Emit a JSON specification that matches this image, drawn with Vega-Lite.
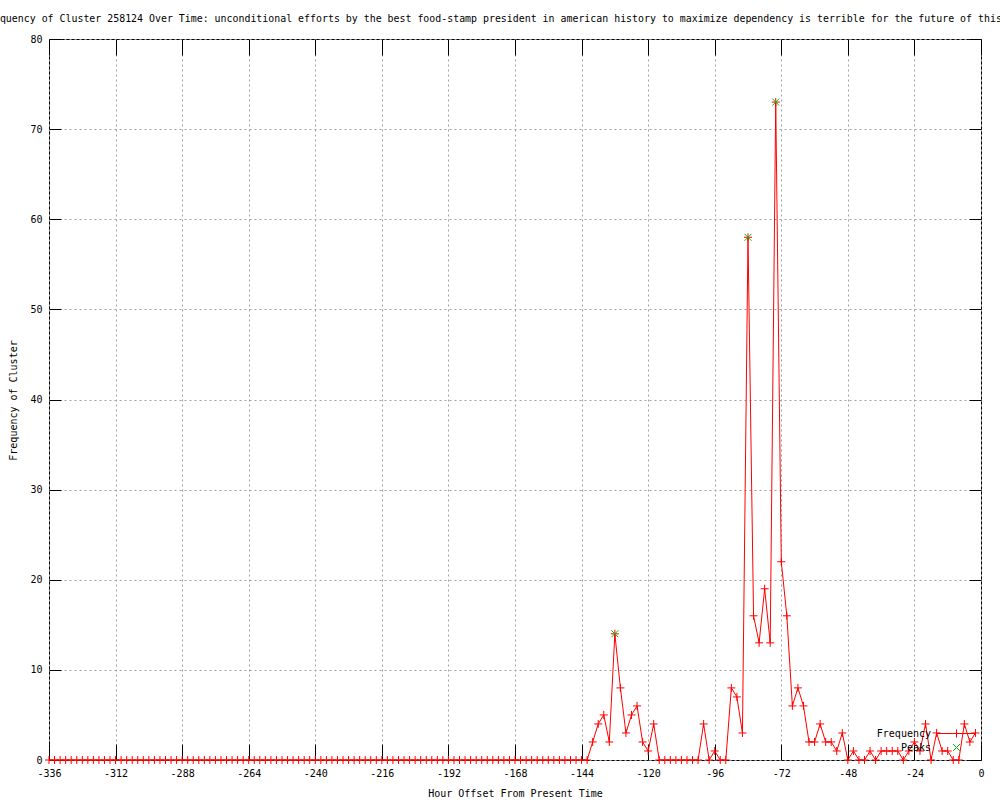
{
 "$schema": "https://vega.github.io/schema/vega-lite/v6.json",
 "autosize": {"type": "none"},
 "width": 932,
 "height": 721,
 "padding": {"left": 49, "top": 39, "right": 19, "bottom": 40},
 "background": "white",
 "config": {"view": {"stroke": "black", "strokeWidth": 1}, "font": "DejaVu Sans Mono"},
 "title": {"text": "Frequency of Cluster 258124 Over Time: unconditional efforts by the best food-stamp president in american history to maximize dependency is terrible for the future of this", "anchor": "start", "frame": "group", "dx": -67, "offset": 10, "fontSize": 9.92, "fontWeight": "normal", "font": "DejaVu Sans Mono", "color": "black"},
 "datasets": {
  "freq": [
   {"hour": -336, "frequency": 0}, {"hour": -334, "frequency": 0}, {"hour": -332, "frequency": 0}, {"hour": -330, "frequency": 0}, {"hour": -328, "frequency": 0}, {"hour": -326, "frequency": 0}, {"hour": -324, "frequency": 0}, {"hour": -322, "frequency": 0}, {"hour": -320, "frequency": 0}, {"hour": -318, "frequency": 0}, {"hour": -316, "frequency": 0}, {"hour": -314, "frequency": 0}, {"hour": -312, "frequency": 0}, {"hour": -310, "frequency": 0}, {"hour": -308, "frequency": 0}, {"hour": -306, "frequency": 0}, {"hour": -304, "frequency": 0}, {"hour": -302, "frequency": 0}, {"hour": -300, "frequency": 0}, {"hour": -298, "frequency": 0}, {"hour": -296, "frequency": 0}, {"hour": -294, "frequency": 0}, {"hour": -292, "frequency": 0}, {"hour": -290, "frequency": 0}, {"hour": -288, "frequency": 0}, {"hour": -286, "frequency": 0}, {"hour": -284, "frequency": 0}, {"hour": -282, "frequency": 0}, {"hour": -280, "frequency": 0}, {"hour": -278, "frequency": 0}, {"hour": -276, "frequency": 0}, {"hour": -274, "frequency": 0}, {"hour": -272, "frequency": 0}, {"hour": -270, "frequency": 0}, {"hour": -268, "frequency": 0}, {"hour": -266, "frequency": 0}, {"hour": -264, "frequency": 0}, {"hour": -262, "frequency": 0}, {"hour": -260, "frequency": 0}, {"hour": -258, "frequency": 0}, {"hour": -256, "frequency": 0}, {"hour": -254, "frequency": 0}, {"hour": -252, "frequency": 0}, {"hour": -250, "frequency": 0}, {"hour": -248, "frequency": 0}, {"hour": -246, "frequency": 0}, {"hour": -244, "frequency": 0}, {"hour": -242, "frequency": 0}, {"hour": -240, "frequency": 0}, {"hour": -238, "frequency": 0}, {"hour": -236, "frequency": 0}, {"hour": -234, "frequency": 0}, {"hour": -232, "frequency": 0}, {"hour": -230, "frequency": 0}, {"hour": -228, "frequency": 0}, {"hour": -226, "frequency": 0}, {"hour": -224, "frequency": 0}, {"hour": -222, "frequency": 0}, {"hour": -220, "frequency": 0}, {"hour": -218, "frequency": 0}, {"hour": -216, "frequency": 0}, {"hour": -214, "frequency": 0}, {"hour": -212, "frequency": 0}, {"hour": -210, "frequency": 0}, {"hour": -208, "frequency": 0}, {"hour": -206, "frequency": 0}, {"hour": -204, "frequency": 0}, {"hour": -202, "frequency": 0}, {"hour": -200, "frequency": 0}, {"hour": -198, "frequency": 0}, {"hour": -196, "frequency": 0}, {"hour": -194, "frequency": 0}, {"hour": -192, "frequency": 0}, {"hour": -190, "frequency": 0}, {"hour": -188, "frequency": 0}, {"hour": -186, "frequency": 0}, {"hour": -184, "frequency": 0}, {"hour": -182, "frequency": 0}, {"hour": -180, "frequency": 0}, {"hour": -178, "frequency": 0}, {"hour": -176, "frequency": 0}, {"hour": -174, "frequency": 0}, {"hour": -172, "frequency": 0}, {"hour": -170, "frequency": 0}, {"hour": -168, "frequency": 0}, {"hour": -166, "frequency": 0}, {"hour": -164, "frequency": 0}, {"hour": -162, "frequency": 0}, {"hour": -160, "frequency": 0}, {"hour": -158, "frequency": 0}, {"hour": -156, "frequency": 0}, {"hour": -154, "frequency": 0}, {"hour": -152, "frequency": 0}, {"hour": -150, "frequency": 0}, {"hour": -148, "frequency": 0}, {"hour": -146, "frequency": 0}, {"hour": -144, "frequency": 0}, {"hour": -142, "frequency": 0},
   {"hour": -140, "frequency": 2}, {"hour": -138, "frequency": 4}, {"hour": -136, "frequency": 5}, {"hour": -134, "frequency": 2}, {"hour": -132, "frequency": 14}, {"hour": -130, "frequency": 8}, {"hour": -128, "frequency": 3}, {"hour": -126, "frequency": 5}, {"hour": -124, "frequency": 6}, {"hour": -122, "frequency": 2}, {"hour": -120, "frequency": 1}, {"hour": -118, "frequency": 4},
   {"hour": -116, "frequency": 0}, {"hour": -114, "frequency": 0}, {"hour": -112, "frequency": 0}, {"hour": -110, "frequency": 0}, {"hour": -108, "frequency": 0}, {"hour": -106, "frequency": 0}, {"hour": -104, "frequency": 0}, {"hour": -102, "frequency": 0},
   {"hour": -100, "frequency": 4}, {"hour": -98, "frequency": 0}, {"hour": -96, "frequency": 1}, {"hour": -94, "frequency": 0}, {"hour": -92, "frequency": 0}, {"hour": -90, "frequency": 8}, {"hour": -88, "frequency": 7}, {"hour": -86, "frequency": 3}, {"hour": -84, "frequency": 58}, {"hour": -82, "frequency": 16}, {"hour": -80, "frequency": 13}, {"hour": -78, "frequency": 19}, {"hour": -76, "frequency": 13}, {"hour": -74, "frequency": 73}, {"hour": -72, "frequency": 22}, {"hour": -70, "frequency": 16}, {"hour": -68, "frequency": 6}, {"hour": -66, "frequency": 8}, {"hour": -64, "frequency": 6}, {"hour": -62, "frequency": 2}, {"hour": -60, "frequency": 2}, {"hour": -58, "frequency": 4}, {"hour": -56, "frequency": 2}, {"hour": -54, "frequency": 2}, {"hour": -52, "frequency": 1}, {"hour": -50, "frequency": 3}, {"hour": -48, "frequency": 0}, {"hour": -46, "frequency": 1}, {"hour": -44, "frequency": 0}, {"hour": -42, "frequency": 0}, {"hour": -40, "frequency": 1}, {"hour": -38, "frequency": 0}, {"hour": -36, "frequency": 1}, {"hour": -34, "frequency": 1}, {"hour": -32, "frequency": 1}, {"hour": -30, "frequency": 1}, {"hour": -28, "frequency": 0}, {"hour": -26, "frequency": 1}, {"hour": -24, "frequency": 2}, {"hour": -22, "frequency": 1}, {"hour": -20, "frequency": 4}, {"hour": -18, "frequency": 0}, {"hour": -16, "frequency": 3}, {"hour": -14, "frequency": 1}, {"hour": -12, "frequency": 1}, {"hour": -10, "frequency": 0}, {"hour": -8, "frequency": 0}, {"hour": -6, "frequency": 4}, {"hour": -4, "frequency": 2}, {"hour": -2, "frequency": 3}
  ],
  "peaks": [
   {"hour": -132, "frequency": 14}, {"hour": -84, "frequency": 58}, {"hour": -74, "frequency": 73}
  ]
 },
 "layer": [
  {
   "data": {"name": "freq"},
   "mark": {"type": "line", "strokeWidth": 1},
   "encoding": {
    "x": {"field": "hour", "type": "quantitative", "scale": {"domain": [-336, 0], "nice": false, "zero": false},
     "axis": {"orient": "bottom", "values": [-336, -312, -288, -264, -240, -216, -192, -168, -144, -120, -96, -72, -48, -24, 0], "grid": true, "gridColor": "#a0a0a0", "gridDash": [2, 3], "gridWidth": 1, "domain": false, "ticks": true, "tickSize": -16, "tickColor": "black", "tickWidth": 1, "labelPadding": 24, "labelFont": "DejaVu Sans Mono", "labelFontSize": 10, "labelColor": "black", "labelExpr": "'' + datum.value", "labelOverlap": false, "labelFlush": false, "labelBound": false, "title": "Hour Offset From Present Time", "titleFont": "DejaVu Sans Mono", "titleFontSize": 10, "titleFontWeight": "normal", "titleColor": "black", "titleX": 466, "titleY": 33, "titleAlign": "center", "titleBaseline": "middle"}},
    "y": {"field": "frequency", "type": "quantitative", "scale": {"domain": [0, 80], "nice": false, "zero": true},
     "axis": {"orient": "left", "values": [0, 10, 20, 30, 40, 50, 60, 70, 80], "grid": true, "gridColor": "#a0a0a0", "gridDash": [2, 3], "gridWidth": 1, "domain": false, "ticks": true, "tickSize": -12, "tickColor": "black", "tickWidth": 1, "labelPadding": 19, "labelFont": "DejaVu Sans Mono", "labelFontSize": 10, "labelColor": "black", "labelOverlap": false, "labelFlush": false, "labelBound": false, "title": "Frequency of Cluster", "titleFont": "DejaVu Sans Mono", "titleFontSize": 10, "titleFontWeight": "normal", "titleColor": "black", "titleX": -36, "titleY": 361, "titleAngle": 270, "titleAlign": "center", "titleBaseline": "middle"}},
    "color": {"datum": "Frequency", "type": "nominal", "scale": {"domain": ["Frequency", "Peaks"], "range": ["#ff0000", "#00c000"]},
     "legend": {"orient": "none", "legendX": 900.5, "legendY": 687.5, "title": null, "padding": 0, "symbolSize": 169, "symbolStrokeWidth": 1, "labelAlign": "right", "labelOffset": -32.5, "labelFont": "DejaVu Sans Mono", "labelFontSize": 10, "labelColor": "black", "rowPadding": 0,
      "encode": {"symbols": {"update": {"shape": {"signal": "datum.value === 'Peaks' ? 'M-0.54,-0.54L0.54,0.54M-0.54,0.54L0.54,-0.54' : 'M-3,0L3,0M0,-0.62L0,0.62'"}, "stroke": {"signal": "datum.value === 'Peaks' ? '#00c000' : '#ff0000'"}, "fill": {"value": "transparent"}, "strokeWidth": {"value": 1}, "opacity": {"value": 1}}}}}}
   }
  },
  {
   "data": {"name": "freq"},
   "mark": {"type": "point", "shape": "M-1,0L1,0M0,-1L0,1", "size": 64, "filled": false, "strokeWidth": 1, "opacity": 1},
   "encoding": {
    "x": {"field": "hour", "type": "quantitative", "axis": {"orient": "top", "values": [-336, -312, -288, -264, -240, -216, -192, -168, -144, -120, -96, -72, -48, -24, 0], "grid": false, "domain": false, "labels": false, "ticks": true, "tickSize": -16, "tickColor": "black", "tickWidth": 1, "title": null}},
    "y": {"field": "frequency", "type": "quantitative", "axis": {"orient": "right", "values": [0, 10, 20, 30, 40, 50, 60, 70, 80], "grid": false, "domain": false, "labels": false, "ticks": true, "tickSize": -12, "tickColor": "black", "tickWidth": 1, "title": null}},
    "color": {"datum": "Frequency", "type": "nominal"}
   }
  },
  {
   "data": {"name": "peaks"},
   "mark": {"type": "point", "shape": "M-1,-1L1,1M-1,1L1,-1", "size": 49, "filled": false, "strokeWidth": 1, "opacity": 1},
   "encoding": {
    "x": {"field": "hour", "type": "quantitative", "axis": null},
    "y": {"field": "frequency", "type": "quantitative", "axis": null},
    "color": {"datum": "Peaks", "type": "nominal"}
   }
  }
 ],
 "resolve": {"axis": {"x": "independent", "y": "independent"}}
}
